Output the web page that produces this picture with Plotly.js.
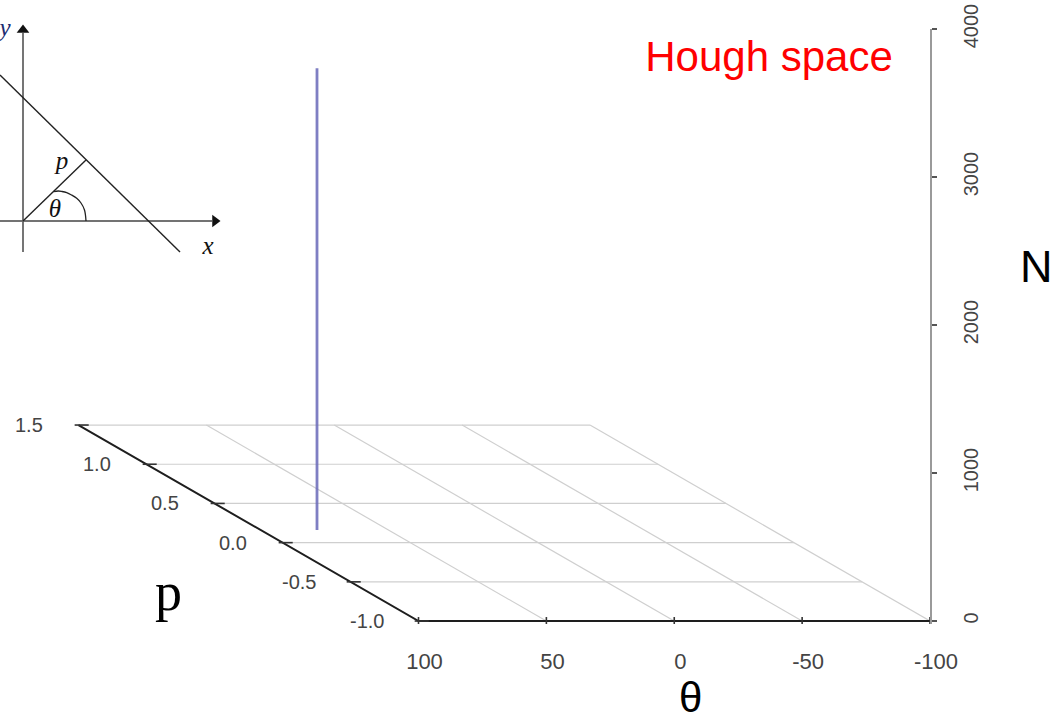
<!DOCTYPE html>
<html><head><meta charset="utf-8">
<script src="https://cdn.plot.ly/plotly-3.0.1.min.js"></script>
<style>html,body{margin:0;padding:0;background:#fff}#chart{width:1057px;height:721px}</style>
</head><body><div id="chart"></div>
<script>
// ---- Hough space data ----
const thetaTicks = [100, 50, 0, -50, -100];
const thetaTickText = ['100', '50', '0', '-50', '-100'];
const pTicks = [-1.0, -0.5, 0.0, 0.5, 1.0, 1.5];
const pTickText = ['-1.0', '-0.5', '0.0', '0.5', '1.0', '1.5'];
const nTicks = [0, 1000, 2000, 3000, 4000];
const nTickText = ['0', '1000', '2000', '3000', '4000'];
const peakTheta = [78, 78];
const peakP = [0.16, 0.16];
const peakN = [0, 3120];

// ---- inset diagram (line in normal form) ----
const diagXAxisX = [0, 212];
const diagXAxisY = [221, 221];
const diagYAxisX = [23, 23];
const diagYAxisY = [252, 33];
const diagLineX = [0, 180];
const diagLineY = [75, 252];
const diagNormalX = [23, 86];
const diagNormalY = [221, 160];
const diagArcX = [86, 84.5, 81, 76.7, 71.5, 66.7, 62, 58.3, 53.3];
const diagArcY = [221, 210, 203, 198.3, 195, 192.7, 191.5, 191, 191.7];
const diagArrowX = [215, 23];
const diagArrowY = [221, 30];
const diagArrowSym = ['triangle-right', 'triangle-up'];
const diagLabels = ['p', 'θ', 'x', 'y'];
const diagLabelX = [62, 55, 208, 5];
const diagLabelY = [163, 211, 248, 30];

// ---- oblique projection of the (theta, p, N) box onto the theta/N plane ----
const P_MIN = pTicks[0], P_MAX = pTicks[pTicks.length - 1];
const TH_MAX = thetaTicks[0], TH_MIN = thetaTicks[thetaTicks.length - 1];
const THETA_PER_P = 53.18;
const N_PER_P = 529.7;
const projX = (th, p) => th + (p - P_MIN) * THETA_PER_P;
const projY = (n, p) => n + (p - P_MIN) * N_PER_P;

const SANS = 'Liberation Sans, Arial, Helvetica, sans-serif';
const SERIF = 'Liberation Serif, Times New Roman, serif';

// grid lines on floor
const gx = [], gy = [];
pTicks.slice(1).forEach(p => {
  gx.push(projX(TH_MAX, p), projX(TH_MIN, p), null);
  gy.push(projY(0, p), projY(0, p), null);
});
thetaTicks.slice(1).forEach(th => {
  gx.push(projX(th, P_MIN), projX(th, P_MAX), null);
  gy.push(projY(0, P_MIN), projY(0, P_MAX), null);
});
// dark edges (theta axis in front, p axis on left)
const ex = [projX(TH_MIN, P_MIN), projX(TH_MAX, P_MIN), projX(TH_MAX, P_MAX)];
const ey = [projY(0, P_MIN), projY(0, P_MIN), projY(0, P_MAX)];
// tick marks
const tx = [], ty = [];
pTicks.forEach(p => {
  tx.push(projX(TH_MAX + 1.5, p), projX(TH_MAX - 4, p), null);
  ty.push(projY(0, p), projY(0, p), null);
});
thetaTicks.forEach(th => {
  tx.push(projX(th, P_MIN), projX(th, P_MIN), null);
  ty.push(projY(-20, P_MIN), projY(27, P_MIN), null);
});

const traces = [
  {type: 'scatter', mode: 'lines', x: gx, y: gy, xaxis: 'x', yaxis: 'y',
   line: {color: '#cfcfcf', width: 1.2}, hoverinfo: 'skip'},
  {type: 'scatter', mode: 'lines', x: ex, y: ey, xaxis: 'x', yaxis: 'y',
   line: {color: '#1e1e1e', width: 2}, hoverinfo: 'skip'},
  {type: 'scatter', mode: 'lines', x: tx, y: ty, xaxis: 'x', yaxis: 'y',
   line: {color: '#333', width: 1.6}, hoverinfo: 'skip'},
  {type: 'scatter', mode: 'lines', name: 'peak',
   x: peakTheta.map((t, i) => projX(t, peakP[i])),
   y: peakN.map((n, i) => projY(n, peakP[i])),
   xaxis: 'x', yaxis: 'y', line: {color: 'rgba(105,105,185,0.85)', width: 2.8}},
  // inset diagram
  {type: 'scatter', mode: 'lines', x: diagXAxisX, y: diagXAxisY, xaxis: 'x2', yaxis: 'y2',
   line: {color: '#444', width: 1.6}, hoverinfo: 'skip'},
  {type: 'scatter', mode: 'lines', x: diagYAxisX, y: diagYAxisY, xaxis: 'x2', yaxis: 'y2',
   line: {color: '#666', width: 1.8}, hoverinfo: 'skip'},
  {type: 'scatter', mode: 'lines', x: diagLineX, y: diagLineY, xaxis: 'x2', yaxis: 'y2',
   line: {color: '#222', width: 1.4}, hoverinfo: 'skip'},
  {type: 'scatter', mode: 'lines', x: diagNormalX, y: diagNormalY, xaxis: 'x2', yaxis: 'y2',
   line: {color: '#222', width: 1.4}, hoverinfo: 'skip'},
  {type: 'scatter', mode: 'lines', x: diagArcX, y: diagArcY, xaxis: 'x2', yaxis: 'y2',
   line: {color: '#222', width: 1.3, shape: 'spline'}, hoverinfo: 'skip'},
  {type: 'scatter', mode: 'markers', x: diagArrowX, y: diagArrowY, xaxis: 'x2', yaxis: 'y2',
   marker: {symbol: diagArrowSym, size: 11, color: '#111', line: {width: 0}},
   cliponaxis: false, hoverinfo: 'skip'},
  {type: 'scatter', mode: 'text', x: diagLabelX, y: diagLabelY, text: diagLabels,
   xaxis: 'x2', yaxis: 'y2', cliponaxis: false, hoverinfo: 'skip',
   textfont: {family: SERIF, size: 25, color: ['#111', '#111', '#111', '#1c2c70'], style: 'italic'}}
];

const W = 1057, H = 721;
const annotations = pTicks.map((p, i) => ({
  xref: 'x', yref: 'y', x: projX(TH_MAX, p), y: projY(0, p), text: pTickText[i],
  showarrow: false, xanchor: 'right', yanchor: 'middle', xshift: -33,
  font: {family: SANS, size: 20, color: '#444'}
}));
annotations.push(
  {xref: 'paper', yref: 'paper', x: 690 / W, y: 1 - 697 / H, text: 'θ', showarrow: false,
   xanchor: 'center', yanchor: 'middle', font: {family: SANS, size: 42, color: '#000'}},
  {xref: 'paper', yref: 'paper', x: 1036 / W, y: 1 - 266 / H, text: 'N', showarrow: false,
   xanchor: 'center', yanchor: 'middle', font: {family: SANS, size: 45, color: '#000'}},
  {xref: 'paper', yref: 'paper', x: 168 / W, y: 1 - 592 / H, text: 'p', showarrow: false,
   xanchor: 'center', yanchor: 'middle', font: {family: SERIF, size: 54, color: '#000'}}
);

const layout = {
  width: W, height: H,
  margin: {l: 0, r: 0, t: 0, b: 0, pad: 0},
  paper_bgcolor: '#fff', plot_bgcolor: 'rgba(0,0,0,0)',
  showlegend: false,
  title: {text: 'Hough space', x: 769 / W, xanchor: 'center', xref: 'paper',
          y: 1 - 56 / H, yanchor: 'middle', yref: 'container',
          font: {family: SANS, size: 42, color: '#ff0000'}},
  xaxis: {domain: [60 / W, 930 / W], range: [TH_MIN + 870 / 2.5575, TH_MIN],
          showgrid: false, zeroline: false, showline: false, ticks: '',
          tickmode: 'array', tickvals: thetaTicks, ticktext: thetaTickText,
          tickfont: {family: SANS, size: 22, color: '#444'},
          ticklabelstandoff: 22, ticklabelshift: -6, fixedrange: true},
  yaxis: {domain: [97 / H, 692 / H], range: [-20, 4000], side: 'right', anchor: 'x',
          showgrid: false, zeroline: false, showline: true, linecolor: '#9a9a9a', linewidth: 2,
          ticks: 'outside', ticklen: 5, tickwidth: 1.5, tickcolor: '#555',
          tickmode: 'array', tickvals: nTicks, ticktext: nTickText, tickangle: -90,
          tickfont: {family: SANS, size: 20, color: '#444'},
          ticklabelstandoff: 17, fixedrange: true},
  xaxis2: {domain: [0, 240 / W], range: [0, 240], anchor: 'y2', visible: false, fixedrange: true},
  yaxis2: {domain: [1 - 270 / H, 1], range: [270, 0], anchor: 'x2', visible: false, fixedrange: true},
  annotations: annotations
};

Plotly.newPlot('chart', traces, layout, {displayModeBar: false, staticPlot: true});
</script></body></html>
